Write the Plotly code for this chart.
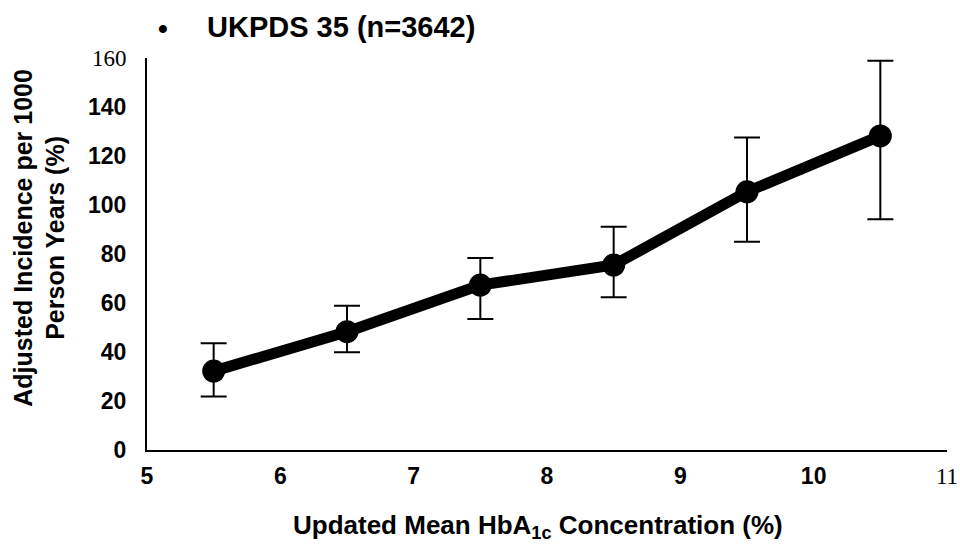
import plotly.graph_objects as go

hba1c = [5.5, 6.5, 7.5, 8.5, 9.5, 10.5]
incidence = [32.2, 48.3, 67.3, 75.5, 105.4, 128.2]
ci_upper = [43.6, 58.9, 78.4, 91.1, 127.6, 158.9]
ci_lower = [21.8, 39.9, 53.5, 62.3, 85.0, 94.2]

err_plus = [u - v for u, v in zip(ci_upper, incidence)]
err_minus = [v - l for v, l in zip(incidence, ci_lower)]

x_ticks = [5, 6, 7, 8, 9, 10, 11]
x_ticktext = ["5", "6", "7", "8", "9", "10",
              "<span style='font-family:Liberation Serif;font-weight:normal'>11</span>"]
y_ticks = [0, 20, 40, 60, 80, 100, 120, 140, 160]
y_ticktext = ["0", "20", "40", "60", "80", "100", "120", "140",
              "<span style='font-family:Liberation Serif;font-weight:normal'>160</span>"]

FONT = "Liberation Sans, Arial, sans-serif"

fig = go.Figure()
fig.add_trace(go.Scatter(
    x=hba1c, y=incidence, mode="lines+markers",
    line=dict(color="black", width=11),
    marker=dict(color="black", size=23),
    error_y=dict(type="data", symmetric=False, array=err_plus, arrayminus=err_minus,
                 color="black", thickness=2, width=13),
    showlegend=False, cliponaxis=False,
))

fig.update_layout(
    width=960, height=556,
    margin=dict(l=147, r=13, t=58, b=106, autoexpand=False),
    plot_bgcolor="white", paper_bgcolor="white",
    font=dict(family=FONT, color="black", size=22),
    xaxis=dict(range=[5, 11], tickvals=x_ticks, ticktext=x_ticktext,
               showgrid=False, zeroline=False,
               showline=True, linecolor="black", linewidth=2,
               tickfont=dict(size=23, family=FONT, weight="bold"),
               ticks="outside", ticklen=4, tickcolor="rgba(0,0,0,0)"),
    yaxis=dict(range=[0, 160], tickvals=y_ticks, ticktext=y_ticktext,
               showgrid=False, zeroline=False,
               showline=True, linecolor="black", linewidth=2,
               tickfont=dict(size=23, family=FONT, weight="bold"),
               ticks="outside", ticklen=14, tickcolor="rgba(0,0,0,0)"),
    annotations=[
        dict(text="<b>•</b>", x=0.02, y=1.0765, xref="paper", yref="paper", showarrow=False,
             font=dict(size=28, family=FONT), xanchor="center", yanchor="middle"),
        dict(text="<b>UKPDS 35 (n=3642)</b>", x=0.0725, y=1.079, xref="paper", yref="paper",
             showarrow=False, font=dict(size=29, family=FONT), xanchor="left", yanchor="middle"),
        dict(text="<b>Adjusted Incidence per 1000<br>Person Years (%)</b>", x=-0.134, y=0.541,
             xref="paper", yref="paper", showarrow=False, textangle=-90,
             font=dict(size=25, family=FONT), xanchor="center", yanchor="middle"),
        dict(text="<b>Updated Mean HbA<sub>1c</sub> Concentration (%)</b>", x=0.489, y=-0.196,
             xref="paper", yref="paper", showarrow=False,
             font=dict(size=26, family=FONT), xanchor="center", yanchor="middle"),
    ],
)

fig.write_html("out.html", config={"displayModeBar": False},
               post_script="document.body.style.margin='0';")
